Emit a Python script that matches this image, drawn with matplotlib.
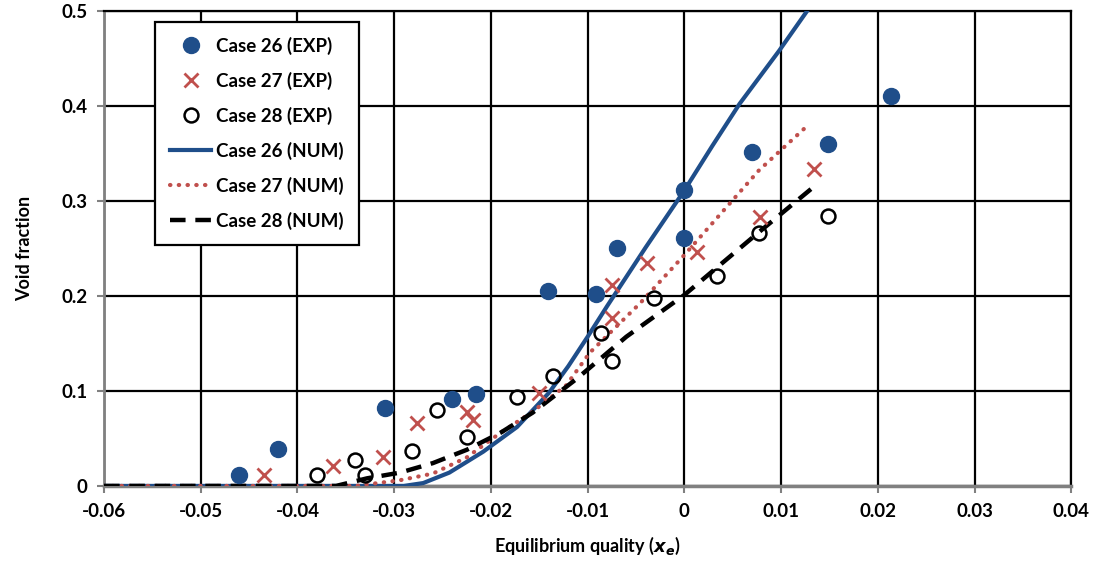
import numpy as np
import matplotlib.pyplot as plt

plt.rcParams['font.family'] = ['Lato', 'DejaVu Sans']
plt.rcParams['font.weight'] = 'bold'

# experimental data
x26_exp = [-0.046, -0.042, -0.031, -0.024, -0.0215, -0.0141, -0.0091, -0.007,
           0.0, 0.0, 0.007, 0.0148, 0.0214]
y26_exp = [0.011, 0.039, 0.082, 0.091, 0.097, 0.205, 0.202, 0.250,
           0.311, 0.261, 0.351, 0.360, 0.410]

x27_exp = [-0.0435, -0.0363, -0.0312, -0.0276, -0.0225, -0.0219, -0.015,
           -0.0075, -0.0075, -0.0039, 0.0013, 0.0078, 0.0134]
y27_exp = [0.011, 0.021, 0.030, 0.066, 0.078, 0.069, 0.098,
           0.211, 0.177, 0.235, 0.246, 0.283, 0.334]

x28_exp = [-0.038, -0.034, -0.033, -0.0282, -0.0256, -0.0225, -0.0173, -0.0136,
           -0.0086, -0.0075, -0.0031, 0.0034, 0.0077, 0.0148]
y28_exp = [0.011, 0.027, 0.011, 0.037, 0.080, 0.051, 0.094, 0.116,
           0.161, 0.131, 0.198, 0.221, 0.266, 0.284]

# numerical results
x26_num = [-0.06, -0.04, -0.029, -0.027, -0.0243, -0.0208, -0.0173, -0.014,
           -0.012, -0.01, -0.008, -0.006, -0.004, -0.002, 0.0, 0.0029,
           0.0057, 0.0098, 0.0127]
y26_num = [0.0, 0.0, 0.0, 0.003, 0.014, 0.036, 0.062, 0.098,
           0.126, 0.157, 0.189, 0.220, 0.251, 0.281, 0.311, 0.358,
           0.402, 0.458, 0.500]

x27_num = [-0.06, -0.04, -0.034, -0.0294, -0.026, -0.0225, -0.019, -0.0157,
           -0.0122, -0.0098, -0.0046, 0.0, 0.0077, 0.0125]
y27_num = [0.0, 0.0, 0.0, 0.006, 0.013, 0.030, 0.056, 0.078,
           0.106, 0.140, 0.192, 0.243, 0.332, 0.377]

x28_num = [-0.06, -0.04, -0.036, -0.0328, -0.0294, -0.026, -0.0225, -0.019,
           -0.0157, -0.0111, -0.006, 0.0, 0.0077, 0.0134]
y28_num = [0.0, 0.0, 0.0, 0.008, 0.014, 0.024, 0.038, 0.056,
           0.077, 0.113, 0.157, 0.201, 0.267, 0.315]

blue = '#1F4E8A'
red = '#C0504D'

fig = plt.figure(figsize=(10.98, 5.67), dpi=100)
ax = fig.add_axes([0.0947, 0.143, 0.881, 0.838])

ax.plot(x26_exp, y26_exp, 'o', color=blue, ms=11.5, label='Case 26 (EXP)', zorder=5)
ax.plot(x27_exp, y27_exp, 'x', color=red, ms=10, mew=2, label='Case 27 (EXP)', zorder=5)
ax.plot(x28_exp, y28_exp, 'o', mfc='none', mec='black', ms=10, mew=1.8,
        label='Case 28 (EXP)', zorder=5)
ax.plot(x26_num, y26_num, '-', color=blue, lw=3, label='Case 26 (NUM)', zorder=4)
ax.plot(x27_num, y27_num, ':', color=red, lw=3, dashes=(0.1, 2.0),
        dash_capstyle='round', label='Case 27 (NUM)', zorder=4)
ax.plot(x28_num, y28_num, '--', color='black', lw=3.2, dashes=(3.5, 2.2),
        label='Case 28 (NUM)', zorder=4)

ax.set_xlim(-0.06, 0.04)
ax.set_ylim(0, 0.5)
ax.set_xticks(np.arange(-0.06, 0.0401, 0.01))
ax.set_xticklabels(['-0.06', '-0.05', '-0.04', '-0.03', '-0.02', '-0.01', '0',
                    '0.01', '0.02', '0.03', '0.04'])
ax.set_yticks([0, 0.1, 0.2, 0.3, 0.4, 0.5])
ax.set_yticklabels(['0', '0.1', '0.2', '0.3', '0.4', '0.5'])
ax.grid(True, color='black', lw=1.6)
ax.set_axisbelow(True)
for side in ax.spines:
    ax.spines[side].set_color('black')
    ax.spines[side].set_linewidth(1.6)
ax.spines['bottom'].set_color('#808080')
ax.spines['bottom'].set_linewidth(2.5)
ax.spines['left'].set_color('#808080')
ax.spines['left'].set_linewidth(2)
ax.tick_params(axis='both', labelsize=13.5, color='#808080', length=5, width=1.5, pad=7)

ax.set_xlabel('Equilibrium quality ($\\mathbfit{x_e}$)', fontsize=13, fontweight='bold', labelpad=11)
ax.set_ylabel('Void fraction', fontsize=13, fontweight='bold', labelpad=20)

leg = ax.legend(loc='upper left', bbox_to_anchor=(0.053, 0.977), fontsize=13.5,
                frameon=True, fancybox=False, edgecolor='black', framealpha=1,
                handlelength=2.2, handletextpad=0.25, labelspacing=0.9,
                borderpad=0.8, borderaxespad=0)
leg.get_frame().set_linewidth(1.6)

fig.savefig('out.png', dpi=100)
